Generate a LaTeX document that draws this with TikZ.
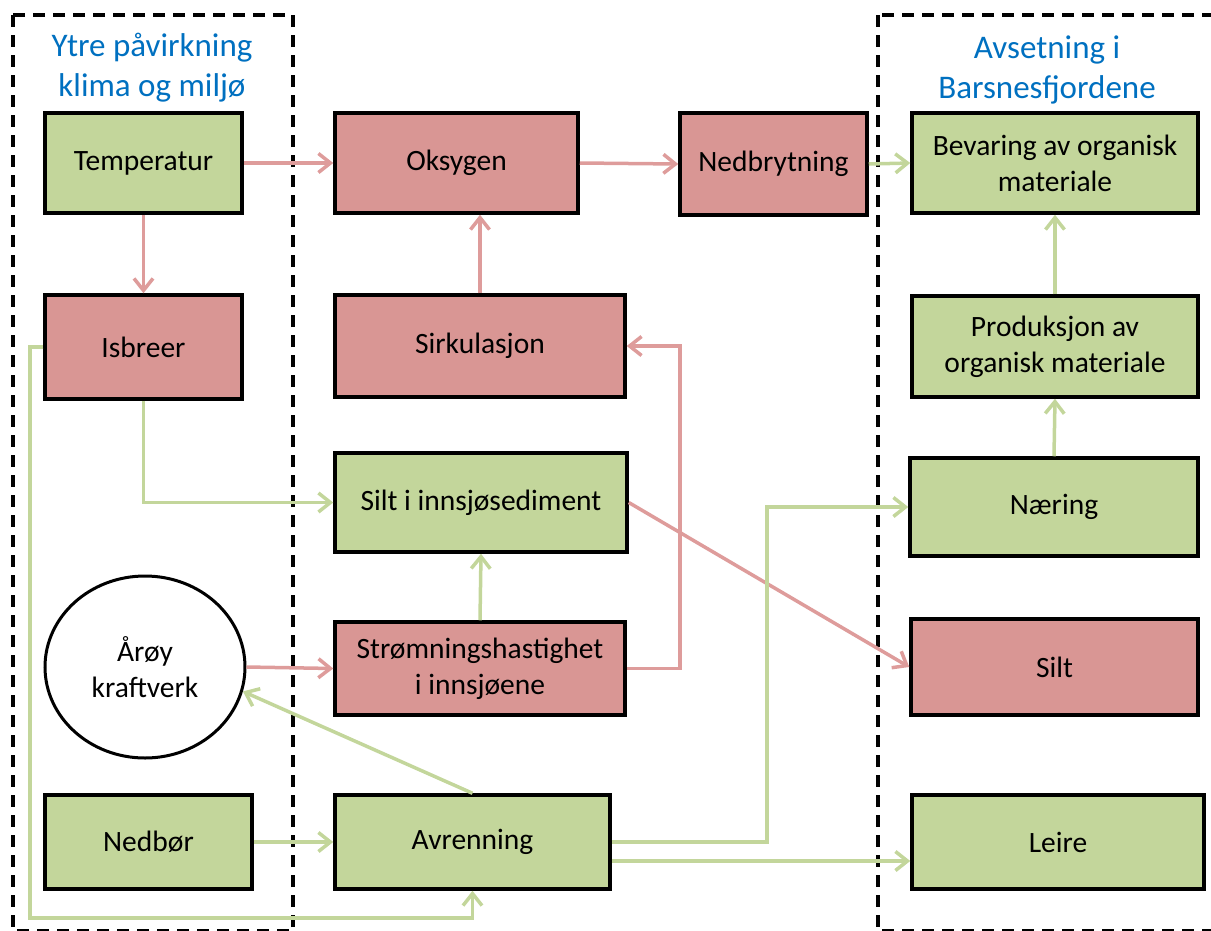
\documentclass[tikz,border=0pt]{standalone}
\usepackage{fontspec}
\setmainfont{Carlito}
\usetikzlibrary{arrows.meta,shapes.geometric}
\definecolor{rfill}{HTML}{D99694}
\definecolor{gfill}{HTML}{C3D69B}
\definecolor{rline}{HTML}{DE9C9B}
\definecolor{gline}{HTML}{C3D69B}
\definecolor{hblue}{HTML}{0070C0}
\tikzset{
  box/.style={draw=black, line width=3.5pt, align=center, inner sep=2pt,
    font=\fontsize{29.5}{36}\selectfont},
  rbox/.style={box, fill=rfill},
  gbox/.style={box, fill=gfill},
  oval/.style={ellipse, draw=black, line width=3pt, fill=white, align=center,
    font=\fontsize{29.5}{36}\selectfont, inner sep=0pt},
  rarr/.style={draw=rline, line width=3.5pt, -{Straight Barb[length=12pt,width=19pt,line width=3.5pt]}},
  garr/.style={draw=gline, line width=3.5pt, -{Straight Barb[length=12pt,width=19pt,line width=3.5pt]}},
  frame/.style={draw=black, line width=3.5pt, dash pattern=on 12pt off 8pt},
  head/.style={text=hblue, align=center, font=\fontsize{33}{40}\selectfont}
}
\begin{document}
\begin{tikzpicture}[x=1pt,y=-1pt]
\useasboundingbox (0,0) rectangle (1211,930);
\begin{scope}
\clip (0,0) rectangle (1211,930);
\draw[frame] (13,15) rectangle (293,931);
\draw[frame] (878,15) rectangle (1230,931);
\end{scope}
\node[head] (h1) at (152,68) {Ytre påvirkning\\klima og miljø};
\node[head] (h2) at (1047,70) {Avsetning i\\Barsnesfjordene};

\node[gbox, minimum width=197pt, minimum height=100pt] (temp) at (143.5,163) {Temperatur};
\node[rbox, minimum width=197pt, minimum height=104pt] (isb) at (143.5,347) {Isbreer};
\node[oval, minimum width=200pt, minimum height=182pt] (aroy) at (145,667) {Årøy\\kraftverk};
\node[gbox, minimum width=207pt, minimum height=94pt] (nedbor) at (148.5,842) {Nedbør};

\node[rbox, minimum width=243pt, minimum height=100pt] (oks) at (456.5,163) {Oksygen};
\node[rbox, minimum width=187pt, minimum height=102pt] (nedb) at (773.5,164) {Nedbrytning};
\node[rbox, minimum width=290pt, minimum height=102pt] (sirk) at (480,346) {Sirkulasjon};
\node[gbox, minimum width=292pt, minimum height=99pt] (silt1) at (481,502.5) {Silt i innsjøsediment};
\node[rbox, minimum width=290pt, minimum height=93pt] (strom) at (480,668.5) {Strømningshastighet\\i innsjøene};
\node[gbox, minimum width=275pt, minimum height=94pt] (avr) at (472.5,842) {Avrenning};

\node[gbox, minimum width=286pt, minimum height=100pt] (bev) at (1055,163) {Bevaring av organisk\\materiale};
\node[gbox, minimum width=286pt, minimum height=101pt] (prod) at (1055,346.5) {Produksjon av\\organisk materiale};
\node[gbox, minimum width=288pt, minimum height=98pt] (naer) at (1054,507) {Næring};
\node[rbox, minimum width=287pt, minimum height=96pt] (silt2) at (1054.5,667) {Silt};
\node[gbox, minimum width=292pt, minimum height=94pt] (leire) at (1058,842) {Leire};

\coordinate (lcol) at (30,918);
\coordinate (rcol) at (680,0);
\coordinate (ncol) at (767,0);

\draw[rarr] (temp.east) -- (oks.west);
\draw[rarr] (oks.east) -- (nedb.west);
\draw[garr] (nedb.east) -- (bev.west);
\draw[rarr] (temp.south) -- (isb.north);
\draw[rarr] (sirk.north) -- (sirk.north |- oks.south);
\draw[garr] (isb.south) |- (silt1.west);
\draw[garr] (isb.west) -- (isb.west -| lcol) -- (lcol) -| (avr.south);
\draw[rarr] (silt1.east) -- (silt2.west);
\draw[garr] (strom.north) -- (silt1.south);
\draw[rarr] (aroy.east) -- (strom.west);
\draw[rarr] (strom.east) -- (strom.east -| rcol) -- (rcol |- sirk.east) -- (sirk.east);
\draw[garr] (avr.north) -- (aroy.-14);
\draw[garr] (nedbor.east) -- (avr.west);
\draw[garr] (avr.east) -- (avr.east -| ncol) -- (ncol |- naer.west) -- (naer.west);
\draw[garr] ([yshift=-19pt]avr.east) -- ([yshift=-19pt]leire.west);
\draw[garr] (naer.north) -- (prod.south);
\draw[garr] (prod.north) -- (bev.south);
\end{tikzpicture}
\end{document}
